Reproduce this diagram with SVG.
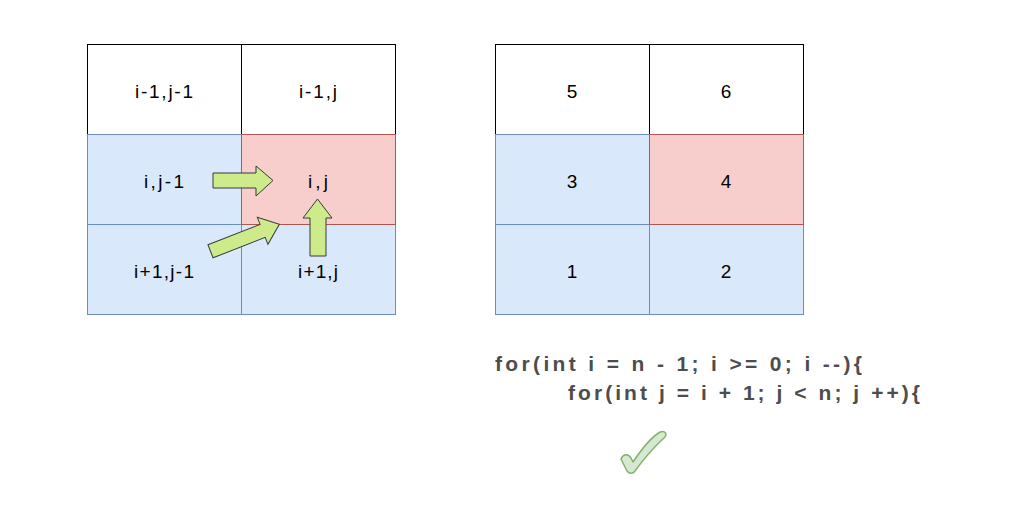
<svg xmlns="http://www.w3.org/2000/svg" width="1018" height="513" viewBox="0 0 1018 513">
<style>
.w{fill:#ffffff;stroke:#000000;stroke-width:1}
.b{fill:#dae8fc;stroke:#6c8ebf;stroke-width:1}
.r{fill:#f8cecc;stroke:#b85450;stroke-width:1}
.t{font-family:"Liberation Sans",Arial,sans-serif;font-size:19px;fill:#000000;text-anchor:middle}
.ar{fill:#cdeb8b;stroke:#36393d;stroke-width:1;stroke-linejoin:miter}
.code{font-family:"Liberation Sans",Arial,sans-serif;font-weight:bold;font-size:21px;fill:#4d4d4d}
</style>
<rect width="1018" height="513" fill="#ffffff"/>
<g id="cell-l-00"><rect class="w" x="87.5" y="44.5" width="154" height="90"/><text class="t" x="164" y="98" textLength="58" lengthAdjust="spacing">i-1,j-1</text></g>
<g id="cell-l-01"><rect class="w" x="241.5" y="44.5" width="154" height="90"/><text class="t" x="318" y="98" textLength="38" lengthAdjust="spacing">i-1,j</text></g>
<g id="cell-l-10"><rect class="b" x="87.5" y="134.5" width="154" height="90"/><text class="t" x="164" y="188" textLength="40" lengthAdjust="spacing">i,j-1</text></g>
<g id="cell-l-20"><rect class="b" x="87.5" y="224.5" width="154" height="90"/><text class="t" x="164" y="278" textLength="60" lengthAdjust="spacing">i+1,j-1</text></g>
<g id="cell-l-21"><rect class="b" x="241.5" y="224.5" width="154" height="90"/><text class="t" x="318" y="278" textLength="40" lengthAdjust="spacing">i+1,j</text></g>
<g id="cell-l-11"><rect class="r" x="241.5" y="134.5" width="154" height="90"/><text class="t" x="318" y="188" textLength="20" lengthAdjust="spacing">i,j</text></g>

<g id="cell-r-00"><rect class="w" x="495.5" y="44.5" width="154" height="90"/><text class="t" x="572" y="98">5</text></g>
<g id="cell-r-01"><rect class="w" x="649.5" y="44.5" width="154" height="90"/><text class="t" x="726" y="98">6</text></g>
<g id="cell-r-10"><rect class="b" x="495.5" y="134.5" width="154" height="90"/><text class="t" x="572" y="188">3</text></g>
<g id="cell-r-20"><rect class="b" x="495.5" y="224.5" width="154" height="90"/><text class="t" x="572" y="278">1</text></g>
<g id="cell-r-21"><rect class="b" x="649.5" y="224.5" width="154" height="90"/><text class="t" x="726" y="278">2</text></g>
<g id="cell-r-11"><rect class="r" x="649.5" y="134.5" width="154" height="90"/><text class="t" x="726" y="188">4</text></g>

<g id="connectors">
<path class="ar" d="M213,173 L256,173 L256,166 L273,180.5 L256,196 L256,188 L213,188 Z"/>
<path class="ar" d="M310,256 L310,218 L303,218 L317.5,199 L332,218 L326,218 L326,256 Z"/>
<path class="ar" transform="translate(210.5,251.3) rotate(-21.4)" d="M0,-7 L56,-7 L56,-14.5 L74,0 L56,14.5 L56,7 L0,7 Z"/>
</g>

<g id="code">
<text class="code" x="495" y="371" textLength="367" lengthAdjust="spacing">for(int i = n - 1; i &gt;= 0; i --){</text>
<text class="code" x="568" y="400" textLength="352" lengthAdjust="spacing">for(int j = i + 1; j &lt; n; j ++){</text>
</g>

<g id="check">
<path d="M621,459 C623,454 628,453 631,458 L633,462 C641,450 650,438 660,432 C665,430 668,434 664,438 C654,447 643,460 635,471 C633,474 629,474 627,471 Z" fill="#d5e8d4" stroke="#82b366" stroke-width="1.5" stroke-linejoin="round"/>
</g>
</svg>
